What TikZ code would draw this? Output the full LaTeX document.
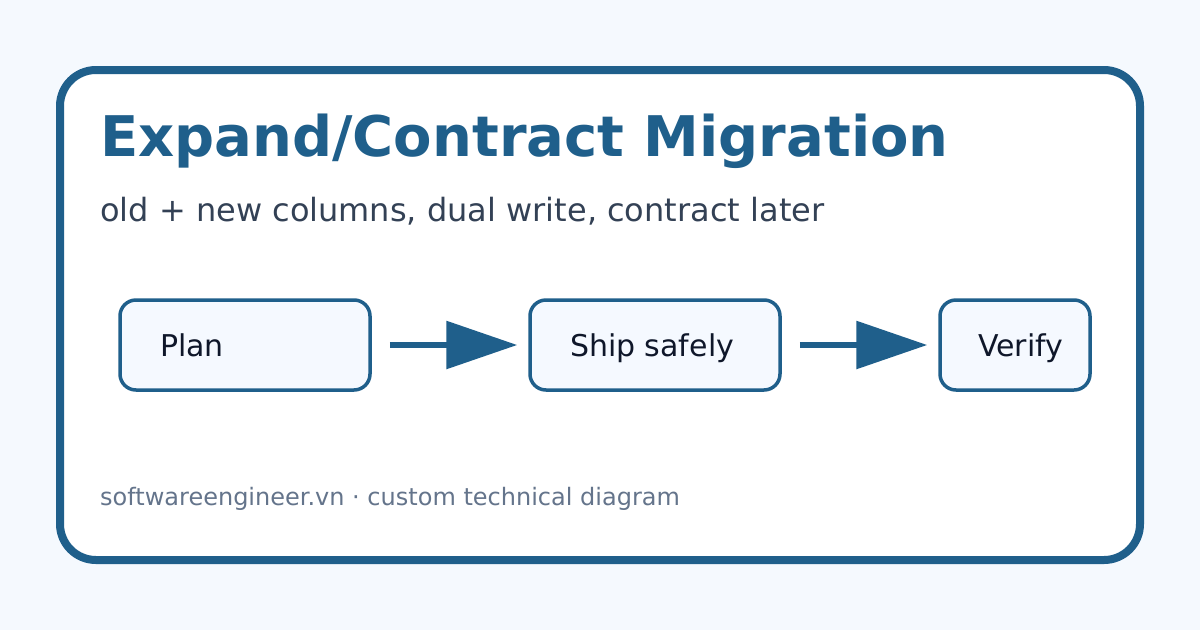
\documentclass[tikz,border=0pt]{standalone}
\usepackage{fontspec}
\setmainfont{DejaVu Sans}
\usetikzlibrary{arrows.meta}
\definecolor{bgc}{HTML}{F5F9FE}
\definecolor{accent}{HTML}{1F5F8B}
\definecolor{subc}{HTML}{334155}
\definecolor{nodetext}{HTML}{0F172A}
\definecolor{footc}{HTML}{64748B}
\definecolor{boxfill}{HTML}{F5F9FF}
\tikzset{
  stepbox/.style={draw=accent, line width=3.5pt, fill=boxfill, rounded corners=16pt,
    minimum height=90pt, inner xsep=40pt, inner ysep=0pt, text height=22pt, text depth=0pt,
    text=nodetext, font=\fontsize{30}{36}\selectfont},
  flow/.style={draw=accent, line width=6pt, -{Triangle[length=71pt, width=47pt]},
    shorten <=18pt, shorten >=11pt}
}
\begin{document}
\begin{tikzpicture}[x=1pt, y=-1pt]
\useasboundingbox (0,0) rectangle (1200,630);
\fill[bgc] (0,0) rectangle (1200,630);
\draw[accent, line width=8pt, rounded corners=36pt, fill=white] (60,70) rectangle (1140,560);
\node[anchor=base west, inner sep=0pt, text=accent, font=\fontsize{56}{67}\selectfont\bfseries] (title) at (100,156) {Expand/Contract Migration};
\node[anchor=base west, inner sep=0pt, text=subc, font=\fontsize{32}{38}\selectfont] (sub) at (100,221) {old + new columns, dual write, contract later};
\node[stepbox] (plan) at (245,345) {\makebox[170pt][l]{Plan}};
\node[stepbox] (ship) at (655,345) {\makebox[170pt][l]{Ship safely}};
\node[stepbox, inner xsep=38pt] (verify) at (1015,345) {\makebox[74pt][l]{Verify}};
\draw[flow] (plan) -- (ship);
\draw[flow] (ship) -- (verify);
\node[anchor=base west, inner sep=0pt, text=footc, font=\fontsize{24}{29}\selectfont] (foot) at (100,505) {softwareengineer.vn · custom technical diagram};
\end{tikzpicture}
\end{document}
